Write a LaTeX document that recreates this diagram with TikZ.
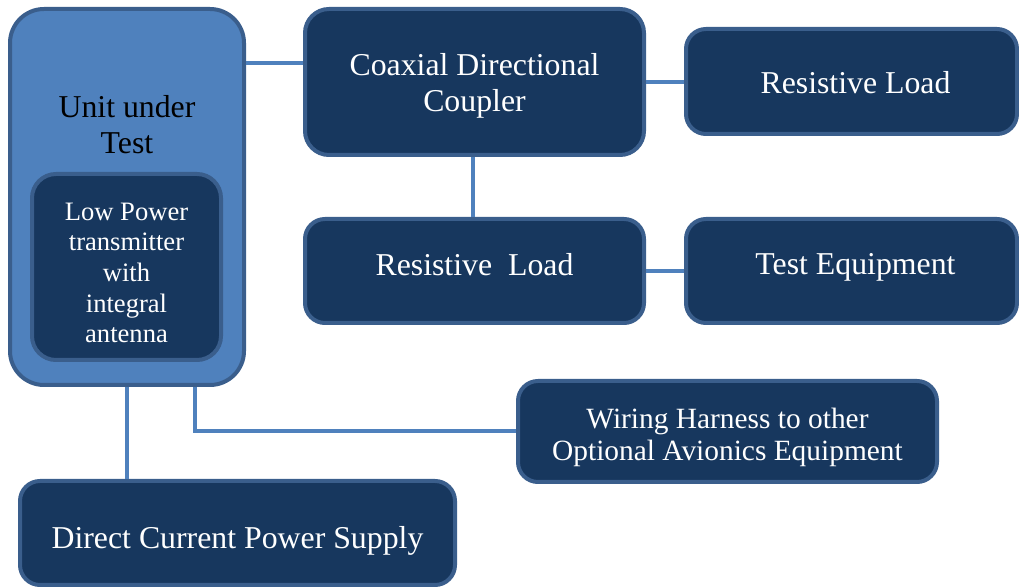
\documentclass[tikz,border=0pt]{standalone}
\usepackage{fontspec}
\setmainfont{Liberation Serif}
\usetikzlibrary{positioning}
\definecolor{boxfill}{HTML}{17375E}
\definecolor{boxline}{HTML}{3A5E8C}
\definecolor{uutfill}{HTML}{4F81BD}
\definecolor{wire}{HTML}{4F81BD}

\begin{document}
\begin{tikzpicture}[x=0.5pt,y=-0.5pt]
\tikzset{
blk/.style={
  draw=boxline,
  line width=2pt,
  fill=boxfill,
  rounded corners=10pt,
  inner sep=0pt
  },
bigblk/.style={
  blk,
  rounded corners=12pt
  },
txt/.style={
  text=white,
  align=center,
  inner sep=0pt,
  font=\fontsize{15.9}{18}\selectfont
  },
link/.style={
  draw=wire,
  line width=2pt
  }
}
\useasboundingbox (0,0) rectangle (1019,588);

% unit under test with the transmitter inside
\node[blk, fill=uutfill, rounded corners=17pt, minimum width=117pt, minimum height=188pt,
  label={[txt, text=black, yshift=36pt]center:{Unit under\\Test}}] (uut) at (127,197) {};
\node[bigblk, minimum width=94.5pt, minimum height=93pt,
  label={[txt, yshift=-3pt, font=\fontsize{13.3}{15.3}\selectfont]center:{Low Power\\transmitter\\with\\integral\\antenna}}] (txm) at (126.5,267) {};

\node[bigblk, minimum width=169.5pt, minimum height=73pt,
  label={[txt, yshift=-2pt]center:{Coaxial Directional\\Coupler}}] (coupler) at (474.5,82) {};
\node[blk, minimum width=165.5pt, minimum height=52.5pt,
  label={[txt, xshift=2pt, yshift=-0.5pt]center:{Resistive Load}}] (loada) at (851.5,81.5) {};
\node[blk, minimum width=169.5pt, minimum height=52pt,
  label={[txt, yshift=3pt]center:{Resistive\ \ Load}}] (loadb) at (474.5,271) {};
\node[blk, minimum width=165.5pt, minimum height=52pt,
  label={[txt, xshift=2pt, yshift=2pt]center:{Test Equipment}}] (testeq) at (851.5,271) {};
\node[blk, minimum width=209.5pt, minimum height=50.5pt,
  label={[txt, yshift=-2.75pt, font=\fontsize{14.7}{16}\selectfont]center:{Wiring Harness to other\\Optional Avionics Equipment}}] (harness) at (727.5,431.5) {};
\node[blk, minimum width=217.5pt, minimum height=52pt,
  label={[txt, yshift=-4pt]center:{Direct Current Power Supply}}] (dcps) at (237.5,533) {};

\draw[link] ([yshift=9.5pt]coupler.west) -- ([yshift=9.5pt]coupler.west -| uut.east);
\draw[link] (coupler.east) -- (coupler.east -| loada.west);
\draw[link] ([xshift=-0.75pt]coupler.south) -- ([xshift=-0.75pt]coupler.south |- loadb.north);
\draw[link] (loadb.east) -- (testeq.west);
\draw[link] (uut.south) -- (uut.south |- dcps.north);
\draw[link] ([xshift=34pt]uut.south) |- (harness.west);

\end{tikzpicture}
\end{document}
